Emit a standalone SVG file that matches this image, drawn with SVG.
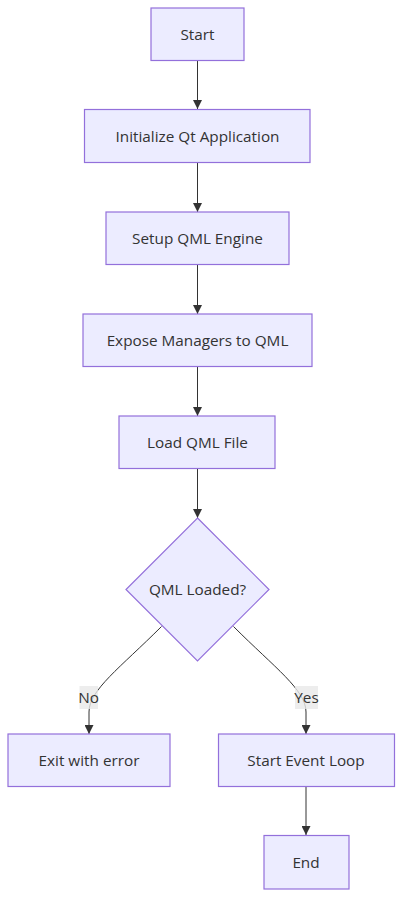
<svg xmlns="http://www.w3.org/2000/svg" width="410" height="915" viewBox="0 0 410 915">
<defs>
<style>
.node rect, .node polygon { fill: #ECECFF; stroke: #9370DB; stroke-width: 1.2; }
.node text { font-family: "Open Sans", "Liberation Sans", sans-serif; font-size: 15.3px; fill: #333333; text-anchor: middle; dominant-baseline: central; }
.edges path { fill: none; stroke: #333333; stroke-width: 1; }
.elabel rect { fill: #e8e8e8; opacity: 0.8; }
.elabel text { font-family: "Open Sans", "Liberation Sans", sans-serif; font-size: 15.3px; fill: #333333; text-anchor: middle; dominant-baseline: central; }
</style>
<marker id="arrow" viewBox="0 0 10 10" refX="10" refY="5" markerWidth="9" markerHeight="9" markerUnits="userSpaceOnUse" orient="auto">
<path d="M0,0 L10,5 L0,10 z" fill="#333333"/>
</marker>
</defs>
<rect width="410" height="915" fill="#ffffff"/>
<g class="edges">
<path d="M197.5,60.5 L197.5,109" marker-end="url(#arrow)"/>
<path d="M197.5,162.5 L197.5,212" marker-end="url(#arrow)"/>
<path d="M197.5,264.5 L197.5,314" marker-end="url(#arrow)"/>
<path d="M197.5,366.5 L197.5,416" marker-end="url(#arrow)"/>
<path d="M197.5,468.5 L197.5,518" marker-end="url(#arrow)"/>
<path d="M161.5,626.5 C120,668 89,690 89,712 L89,734" marker-end="url(#arrow)"/>
<path d="M233.5,626.5 C275,668 306,690 306,712 L306,734" marker-end="url(#arrow)"/>
<path d="M306,786.5 L306,835" marker-end="url(#arrow)"/>
</g>
<g class="elabel" id="label-no">
<rect x="79.5" y="686" width="18.5" height="23"/>
<text x="88.7" y="697">No</text>
</g>
<g class="elabel" id="label-yes">
<rect x="295" y="686" width="23" height="23"/>
<text x="306.5" y="697">Yes</text>
</g>
<g class="node" id="start">
<rect x="151" y="8" width="93" height="52.5"/>
<text x="197.5" y="33.5">Start</text>
</g>
<g class="node" id="init">
<rect x="84.5" y="109.5" width="225.5" height="53"/>
<text x="197.5" y="135.5">Initialize Qt Application</text>
</g>
<g class="node" id="setup">
<rect x="106" y="212" width="183" height="52.5"/>
<text x="197.5" y="237.5">Setup QML Engine</text>
</g>
<g class="node" id="expose">
<rect x="83" y="314" width="229" height="52.5"/>
<text x="197.5" y="339.5">Expose Managers to QML</text>
</g>
<g class="node" id="load">
<rect x="119" y="416" width="156" height="52.5"/>
<text x="197.5" y="441.5">Load QML File</text>
</g>
<g class="node" id="decision">
<polygon points="197.5,518 269,589.5 197.5,661 126,589.5"/>
<text x="197.5" y="589">QML Loaded?</text>
</g>
<g class="node" id="exit">
<rect x="8" y="734" width="162" height="52.5"/>
<text x="89" y="759.5">Exit with error</text>
</g>
<g class="node" id="loop">
<rect x="218.5" y="734" width="176" height="52.5"/>
<text x="306" y="759.5">Start Event Loop</text>
</g>
<g class="node" id="end">
<rect x="264" y="835.5" width="85" height="53.5"/>
<text x="306" y="861.5">End</text>
</g>
</svg>
